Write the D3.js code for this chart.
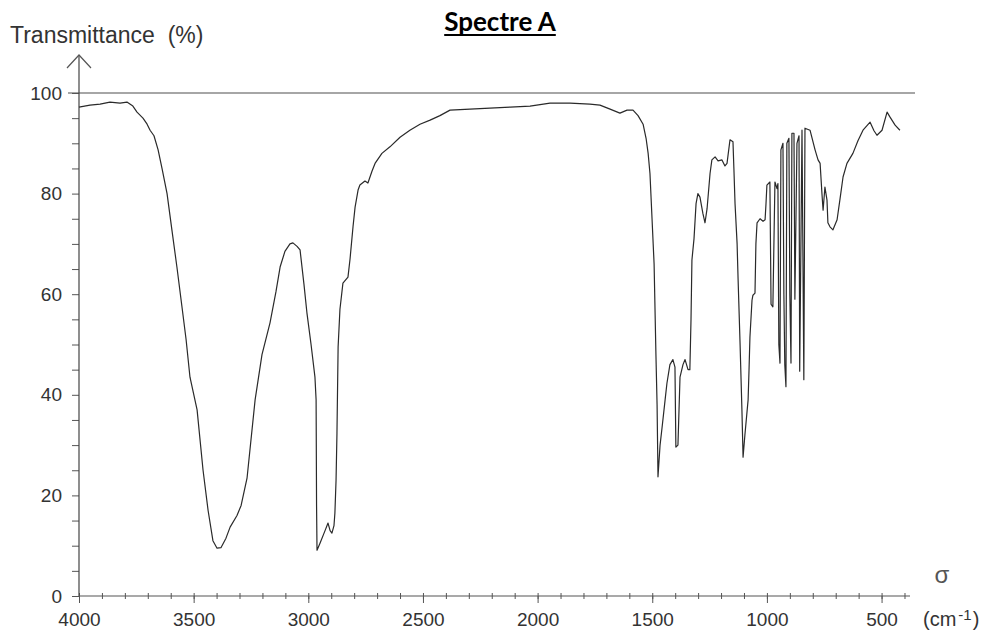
<!DOCTYPE html>
<html>
<head>
<meta charset="utf-8">
<script src="https://d3js.org/d3.v7.min.js"></script>
<title>Spectre A</title>
<style>
  body { margin: 0; background: #fff; }
  svg text { font-family: "Liberation Sans", Arial, sans-serif; fill: #333; }
  .axis path.domain { display: none; }
  .axis line { stroke: #555; }
</style>
</head>
<body>
<svg id="chart" width="999" height="631"></svg>
<script>
// IR spectrum: [wavenumber cm-1, transmittance %]
const spectrum = [
  [4000, 97.2], [3952, 97.6], [3908, 97.8], [3865, 98.2], [3821, 98.0], [3791, 98.2],
  [3765, 97.4], [3747, 96.2], [3721, 95.0], [3703, 93.8], [3690, 92.6], [3673, 91.5],
  [3655, 88.7], [3638, 85.0], [3616, 80.0], [3594, 72.5], [3573, 65.4], [3551, 57.5],
  [3533, 51.0], [3516, 43.5], [3485, 37.0], [3459, 25.0], [3437, 17.0], [3416, 11.0],
  [3398, 9.5], [3381, 9.6], [3359, 11.5], [3341, 13.7], [3311, 16.0], [3293, 18.0],
  [3267, 23.5], [3232, 39.0], [3202, 48.0], [3167, 54.3], [3141, 60.5], [3123, 65.4],
  [3102, 68.5], [3080, 70.0], [3067, 70.2], [3049, 69.5], [3036, 68.8], [3019, 62.0],
  [3006, 56.3], [2988, 50.0], [2971, 43.5], [2966, 39.0], [2964, 18.0], [2962, 9.1],
  [2949, 10.5], [2927, 13.0], [2914, 14.5], [2905, 13.0], [2897, 12.5], [2888, 14.0],
  [2884, 16.5], [2879, 23.0], [2875, 32.4], [2870, 49.5], [2862, 57.0], [2849, 62.2],
  [2827, 63.4], [2818, 67.0], [2805, 73.4], [2796, 77.3], [2783, 80.7], [2775, 81.7],
  [2753, 82.5], [2740, 82.1], [2722, 84.5], [2709, 86.0], [2679, 88.0], [2644, 89.3],
  [2600, 91.2], [2557, 92.6], [2513, 93.8], [2469, 94.6], [2426, 95.5], [2382, 96.6],
  [2295, 96.8], [2208, 97.0], [2120, 97.2], [2033, 97.4], [1946, 98.0], [1859, 98.0],
  [1772, 97.8], [1728, 97.6], [1684, 96.8], [1641, 96.0], [1610, 96.6], [1584, 96.6],
  [1562, 95.5], [1540, 93.8], [1527, 91.0], [1518, 88.0], [1510, 84.0], [1501, 75.0],
  [1492, 66.0], [1484, 48.0], [1479, 38.0], [1475, 23.7], [1466, 30.0], [1457, 33.6],
  [1444, 39.0], [1436, 42.3], [1423, 46.0], [1410, 47.0], [1401, 45.5], [1397, 29.6],
  [1388, 30.0], [1379, 43.5], [1366, 46.0], [1357, 47.0], [1344, 45.0], [1336, 45.0],
  [1331, 55.0], [1327, 66.8], [1318, 71.0], [1309, 78.0], [1301, 80.0], [1292, 79.3],
  [1279, 76.0], [1270, 74.2], [1261, 77.0], [1248, 84.0], [1240, 86.7], [1226, 87.3],
  [1213, 86.5], [1196, 86.7], [1183, 85.5], [1174, 86.0], [1161, 90.7], [1148, 90.3],
  [1144, 85.0], [1139, 78.0], [1130, 70.0], [1126, 63.4], [1117, 50.0], [1109, 37.0],
  [1104, 27.6], [1096, 32.0], [1082, 39.0], [1078, 45.0], [1074, 51.5], [1065, 58.8],
  [1061, 59.8], [1052, 60.2], [1048, 70.0], [1043, 74.2], [1030, 75.0], [1017, 74.5],
  [1008, 74.8], [1004, 78.0], [1000, 81.7], [987, 82.3], [982, 58.0], [974, 57.5],
  [965, 82.3], [956, 81.0], [952, 82.0], [948, 50.0], [943, 46.3], [939, 88.7],
  [930, 90.0], [926, 60.0], [922, 46.0], [917, 41.6], [913, 90.0], [904, 91.0],
  [900, 60.0], [895, 46.3], [891, 92.0], [882, 92.0], [878, 59.0], [869, 90.0],
  [860, 91.5], [857, 44.7], [847, 92.6], [839, 43.0], [834, 93.0], [812, 92.6],
  [790, 88.7], [777, 86.7], [768, 86.0], [760, 80.0], [755, 76.7], [747, 81.3],
  [738, 78.7], [734, 74.2], [725, 73.4], [712, 72.8], [694, 74.8], [681, 79.0],
  [668, 83.3], [651, 86.0], [625, 88.0], [603, 90.5], [581, 92.6], [550, 94.2],
  [533, 92.5], [520, 91.6], [498, 92.6], [476, 96.2], [463, 95.2], [441, 93.6],
  [420, 92.6]
];

const xLabelTicks = [4000, 3500, 3000, 2500, 2000, 1500, 1000, 500];
const xMinorTicks = d3.range(4000, 399, -100);
const yLabelTicks = [0, 20, 40, 60, 80, 100];
const yMinorTicks = d3.range(0, 101, 5);
const referenceLevel = 100;

const svg = d3.select("#chart");

svg.append("rect").attr("width", 999).attr("height", 631).attr("fill", "#fff");

const x = d3.scaleLinear().domain([4000, 376]).range([79, 910]);
const y = d3.scaleLinear().domain([0, 100]).range([596, 93]);

// title, underlined
const title = svg.append("text")
    .attr("x", 500).attr("y", 31)
    .attr("text-anchor", "middle")
    .style("font-family", "Lato, 'Open Sans', sans-serif")
    .style("font-weight", "bold")
    .style("font-size", "26px")
    .style("fill", "#000")
    .text("Spectre A");
let tw = title.node().getComputedTextLength();
svg.append("line")
    .attr("x1", 500 - tw / 2).attr("x2", 500 + tw / 2)
    .attr("y1", 35).attr("y2", 35)
    .attr("stroke", "#000").attr("stroke-width", 2);

// y axis label (two spaces kept)
svg.append("text")
    .attr("x", 10).attr("y", 43)
    .style("font-size", "23px")
    .style("white-space", "pre")
    .text("Transmittance  (%)");

// 100% line
svg.append("line")
    .attr("x1", 68).attr("x2", 915)
    .attr("y1", y(referenceLevel)).attr("y2", y(referenceLevel))
    .attr("stroke", "#888").attr("stroke-width", 1.4);

// y ticks every 5 %, labels every 20 %
svg.append("g")
    .attr("class", "axis")
    .attr("transform", "translate(79,0)")
    .call(d3.axisLeft(y).tickValues(yMinorTicks).tickSize(7).tickPadding(10)
        .tickFormat(d => yLabelTicks.includes(d) ? d : ""))
    .selectAll("text")
    .style("font-size", "19px")
    .style("font-family", "'Liberation Sans', Arial, sans-serif")
    .style("fill", "#333");

// x minor ticks crossing the axis
const xMinor = svg.append("g")
    .attr("class", "axis")
    .attr("transform", "translate(0,596)")
    .call(d3.axisBottom(x).tickValues(xMinorTicks).tickSize(3).tickFormat(""));
xMinor.selectAll(".tick line").attr("y1", -3);

// x labelled ticks
svg.append("g")
    .attr("class", "axis")
    .attr("transform", "translate(0,596)")
    .call(d3.axisBottom(x).tickValues(xLabelTicks).tickSize(7).tickPadding(10)
        .tickFormat(d3.format("d")))
    .selectAll("text")
    .style("font-size", "19px")
    .style("font-family", "'Liberation Sans', Arial, sans-serif")
    .style("fill", "#333");

// axis lines and arrow head
svg.append("line")
    .attr("x1", 79).attr("x2", 79).attr("y1", 596).attr("y2", 56)
    .attr("stroke", "#444").attr("stroke-width", 1.2);
svg.append("path")
    .attr("d", "M67,68 L79,55 L91,68")
    .attr("fill", "none").attr("stroke", "#555").attr("stroke-width", 1.2);
svg.append("line")
    .attr("x1", 79).attr("x2", 910).attr("y1", 596).attr("y2", 596)
    .attr("stroke", "#555").attr("stroke-width", 1.2);

// spectrum
const line = d3.line()
    .x(d => x(d[0]))
    .y(d => y(d[1]));

svg.append("path")
    .datum(spectrum)
    .attr("d", line)
    .attr("fill", "none")
    .attr("stroke", "#2a2a2a")
    .attr("stroke-width", 1.2)
    .attr("stroke-linejoin", "round");

// sigma and unit
svg.append("text")
    .attr("x", 942).attr("y", 583)
    .attr("text-anchor", "middle")
    .style("font-size", "24px")
    .style("fill", "#555")
    .text("σ");

const unit = svg.append("text")
    .attr("x", 923).attr("y", 626)
    .style("font-size", "20px");
unit.append("tspan").text("(cm");
unit.append("tspan").attr("dx", 2).attr("dy", -6).style("font-size", "15px").text("-1");
unit.append("tspan").attr("dx", 1).attr("dy", 6).text(")");
</script>
</body>
</html>
